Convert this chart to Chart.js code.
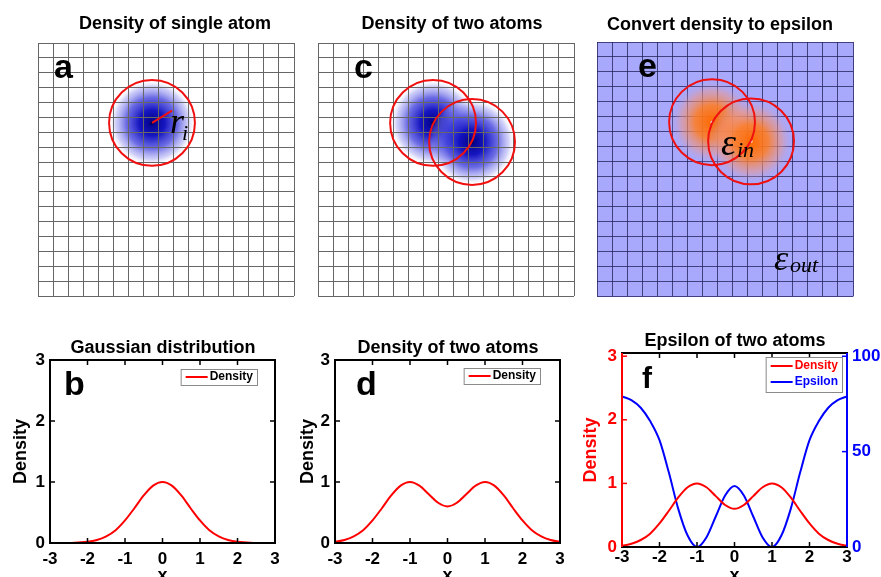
<!DOCTYPE html>
<html>
<head>
<meta charset="utf-8">
<script src="https://cdn.jsdelivr.net/npm/chart.js@4.4.1/dist/chart.umd.min.js"></script>
<style>
  html, body { margin: 0; padding: 0; background: #fff; overflow: hidden; }
  #wrap { position: relative; width: 881px; height: 577px; overflow: hidden; }
  canvas { position: absolute; left: 0; top: 0; }
</style>
</head>
<body>
<div id="wrap">
  <canvas id="panelA" width="881" height="600"></canvas>
  <canvas id="panelC" width="881" height="600"></canvas>
  <canvas id="panelE" width="881" height="600"></canvas>
  <canvas id="panelB" width="881" height="600"></canvas>
  <canvas id="panelD" width="881" height="600"></canvas>
  <canvas id="panelF" width="881" height="600"></canvas>
</div>
<script>
// ---- data ----
const xValues = [-3, -2.75, -2.5, -2.25, -2, -1.75, -1.5, -1.25, -1, -0.75, -0.5, -0.25, 0,
                 0.25, 0.5, 0.75, 1, 1.25, 1.5, 1.75, 2, 2.25, 2.5, 2.75, 3];
const gaussDensity = [0, 0, 0, 0.01, 0.02, 0.05, 0.11, 0.21, 0.37, 0.57, 0.78, 0.94, 1.00,
                      0.94, 0.78, 0.57, 0.37, 0.21, 0.11, 0.05, 0.02, 0.01, 0, 0, 0];
const twoDensity = [0.02, 0.05, 0.11, 0.21, 0.37, 0.57, 0.78, 0.94, 1.00, 0.94, 0.80, 0.66, 0.60,
                    0.66, 0.80, 0.94, 1.00, 0.94, 0.78, 0.57, 0.37, 0.21, 0.11, 0.05, 0.02];
const twoEpsilon = [79, 77, 73, 66, 56, 39, 20, 6, 0, 5, 16, 27, 32,
                    27, 16, 5, 0, 6, 20, 39, 56, 66, 73, 77, 79];
const xTicks = [-3, -2, -1, 0, 1, 2, 3];
const densityTicks = [0, 1, 2, 3];
const epsilonTicks = [0, 50, 100];

// grid pictures (in grid cells)
const gridCells = 17;
const singleAtomX = [7.57];
const singleAtomY = [11.63];
const twoAtomX = [7.64, 10.23];
const twoAtomY = [11.63, 10.35];
const atomRadius = 2.85;
const radiusTip = [8.9, 12.45];

Chart.defaults.font.family = "'Liberation Sans', Arial, sans-serif";
Chart.defaults.color = '#000';

const toPoints = ys => xValues.map((x, i) => ({ x, y: ys[i] }));
const fixedTicks = vals => s => { s.ticks = vals.map(v => ({ value: v })); };

// text drawn on the canvas (titles, panel letters, symbols)
const notesPlugin = {
  id: 'notes',
  afterDraw(chart, args, opts) {
    const ctx = chart.ctx;
    (opts.items || []).forEach(n => {
      ctx.save();
      ctx.font = n.font;
      ctx.fillStyle = n.color || '#000';
      ctx.textAlign = n.align || 'left';
      ctx.textBaseline = 'alphabetic';
      ctx.fillText(n.text, n.x, n.y);
      ctx.restore();
    });
  }
};

// gaussian blobs + red circles on the grid panels
const atomsPlugin = {
  id: 'atoms',
  beforeDraw(chart, args, opts) {
    if (!opts.background) return;
    const { ctx, chartArea: a } = chart;
    ctx.save();
    ctx.fillStyle = opts.background;
    ctx.fillRect(a.left, a.top, a.width + 1, a.height + 1);
    ctx.restore();
  },
  beforeDatasetsDraw(chart, args, opts) {
    const { ctx, chartArea: a, scales: { x, y } } = chart;
    ctx.save();
    ctx.beginPath();
    ctx.rect(a.left, a.top, a.width, a.height);
    ctx.clip();
    opts.xs.forEach((ax, i) => {
      const px = x.getPixelForValue(ax);
      const py = y.getPixelForValue(opts.ys[i]);
      const r = x.getPixelForValue(ax + atomRadius) - px;
      const g = ctx.createRadialGradient(px, py, 0, px, py, r);
      opts.stops.forEach(s => g.addColorStop(s[0], s[1]));
      ctx.fillStyle = g;
      ctx.beginPath();
      ctx.arc(px, py, r, 0, Math.PI * 2);
      ctx.fill();
    });
    ctx.restore();
  },
  afterDraw(chart, args, opts) {
    const { ctx, scales: { x, y } } = chart;
    ctx.save();
    ctx.strokeStyle = '#f01010';
    ctx.lineWidth = 2;
    opts.xs.forEach((ax, i) => {
      const px = x.getPixelForValue(ax);
      const py = y.getPixelForValue(opts.ys[i]);
      const r = x.getPixelForValue(ax + atomRadius) - px;
      ctx.beginPath();
      ctx.arc(px, py, r, 0, Math.PI * 2);
      ctx.stroke();
      if (opts.tip) {
        ctx.beginPath();
        ctx.moveTo(px, py);
        ctx.lineTo(x.getPixelForValue(opts.tip[0]), y.getPixelForValue(opts.tip[1]));
        ctx.stroke();
      }
    });
    ctx.restore();
  }
};

// matlab-like box with inward ticks
const boxPlugin = {
  id: 'axisBox',
  afterDraw(chart, args, opts) {
    const { ctx, chartArea: a } = chart;
    const sx = chart.scales.x, sl = chart.scales.y, sr = chart.scales.y1 || chart.scales.y;
    const left = opts.leftColor || '#000', right = opts.rightColor || '#000';
    ctx.save();
    ctx.lineWidth = 1.5;
    ctx.strokeStyle = '#000';
    sx.ticks.forEach(t => {
      const p = sx.getPixelForValue(t.value);
      ctx.beginPath();
      ctx.moveTo(p, a.bottom); ctx.lineTo(p, a.bottom - 5);
      ctx.moveTo(p, a.top); ctx.lineTo(p, a.top + 5);
      ctx.stroke();
    });
    ctx.strokeStyle = left;
    sl.ticks.forEach(t => {
      const p = sl.getPixelForValue(t.value);
      ctx.beginPath(); ctx.moveTo(a.left, p); ctx.lineTo(a.left + 5, p); ctx.stroke();
    });
    ctx.strokeStyle = right;
    sr.ticks.forEach(t => {
      const p = sr.getPixelForValue(t.value);
      ctx.beginPath(); ctx.moveTo(a.right, p); ctx.lineTo(a.right - 5, p); ctx.stroke();
    });
    ctx.lineWidth = 2;
    const side = (c, x1, y1, x2, y2) => {
      ctx.strokeStyle = c;
      ctx.beginPath(); ctx.moveTo(x1, y1); ctx.lineTo(x2, y2); ctx.stroke();
    };
    side('#000', a.left - 1, a.bottom, a.right + 1, a.bottom);
    side('#000', a.left - 1, a.top, a.right + 1, a.top);
    side(left, a.left, a.top, a.left, a.bottom);
    side(right, a.right, a.top, a.right, a.bottom);
    ctx.restore();
  }
};

// small boxed legend in the top right of the plot
const boxLegendPlugin = {
  id: 'boxLegend',
  afterDraw(chart, args, opts) {
    const { ctx, chartArea: a } = chart;
    const sets = chart.data.datasets;
    ctx.save();
    ctx.font = 'bold 12px "Liberation Sans", Arial, sans-serif';
    const tw = Math.max(...sets.map(d => ctx.measureText(d.label).width));
    const w = 5 + 22 + 2 + tw + 4;
    const h = opts.height;
    const bx = a.right - opts.right - w, by = a.top + opts.top;
    ctx.fillStyle = '#fff';
    ctx.fillRect(bx, by, w, h);
    ctx.strokeStyle = '#8a8a8a';
    ctx.lineWidth = 1;
    ctx.strokeRect(bx + 0.5, by + 0.5, w, h);
    sets.forEach((d, i) => {
      const cy = by + opts.first + i * 16;
      ctx.strokeStyle = d.borderColor;
      ctx.lineWidth = 2;
      ctx.beginPath(); ctx.moveTo(bx + 5, cy); ctx.lineTo(bx + 27, cy); ctx.stroke();
      ctx.fillStyle = opts.colored ? d.borderColor : '#000';
      ctx.textBaseline = 'middle';
      ctx.fillText(d.label, bx + 29, cy);
    });
    ctx.restore();
  }
};

function gridAxis(color, z) {
  return {
    type: 'linear', min: 0, max: gridCells,
    ticks: { display: false, stepSize: 1 },
    grid: { color: color, lineWidth: 1, drawTicks: false, z: z },
    border: { display: false },
    afterFit: s => { if (s.isHorizontal()) s.height = 0; else s.width = 0; }
  };
}

function gridChart(id, pad, xs, ys, stops, gridColor, gridZ, extra) {
  return new Chart(document.getElementById(id), {
    type: 'scatter',
    data: { datasets: [{ data: xs.map((x, i) => ({ x, y: ys[i] })), pointRadius: 1.5,
                         pointBackgroundColor: extra.dot, pointBorderWidth: 0 }] },
    options: {
      responsive: false, animation: false, devicePixelRatio: 1, events: [],
      layout: { padding: pad },
      scales: { x: gridAxis(gridColor, gridZ), y: gridAxis(gridColor, gridZ) },
      plugins: {
        legend: { display: false }, tooltip: { enabled: false },
        atoms: { xs, ys, stops, tip: extra.tip, background: extra.background },
        notes: { items: extra.notes }
      }
    },
    plugins: [atomsPlugin, notesPlugin]
  });
}

const blueStops = [[0, 'rgba(0,0,130,1)'], [0.3, 'rgba(10,10,190,0.95)'], [0.6, 'rgba(60,60,220,0.75)'],
                   [0.85, 'rgba(140,140,240,0.4)'], [1, 'rgba(255,255,255,0.05)']];
const orangeStops = [[0, 'rgba(255,105,0,1)'], [0.4, 'rgba(255,125,35,0.88)'], [0.72, 'rgba(240,150,130,0.5)'],
                     [1, 'rgba(168,168,252,0)']];
const titleFont = 'bold 18px "Liberation Sans", Arial, sans-serif';
const letterFont = 'bold 34px "Liberation Sans", Arial, sans-serif';

gridChart('panelA', { left: 38, top: 43, right: 587, bottom: 304 }, singleAtomX, singleAtomY, blueStops, '#666', 1, {
  dot: '#000040', tip: radiusTip,
  notes: [
    { text: 'Density of single atom', x: 175, y: 29, font: titleFont, align: 'center' },
    { text: 'a', x: 54, y: 78, font: letterFont },
    { text: 'r', x: 170, y: 133, font: 'italic 36px "Liberation Serif", serif' },
    { text: 'i', x: 182, y: 140, font: 'italic 22px "Liberation Serif", serif' }
  ]
});

gridChart('panelC', { left: 318, top: 43, right: 307, bottom: 304 }, twoAtomX, twoAtomY, blueStops, '#666', 1, {
  dot: '#000040',
  notes: [
    { text: 'Density of two atoms', x: 452, y: 29, font: titleFont, align: 'center' },
    { text: 'c', x: 354, y: 78, font: letterFont }
  ]
});

gridChart('panelE', { left: 597, top: 42, right: 28, bottom: 304 }, twoAtomX, twoAtomY, orangeStops, 'rgba(30,30,85,0.75)', -1, {
  dot: '#e8e8ff', background: '#a8a8fc',
  notes: [
    { text: 'Convert density to epsilon', x: 720, y: 30, font: titleFont, align: 'center' },
    { text: 'e', x: 638, y: 77, font: letterFont },
    { text: 'ε', x: 721, y: 155, font: 'italic 38px "Liberation Serif", serif' },
    { text: 'in', x: 737, y: 157, font: 'italic 22px "Liberation Serif", serif' },
    { text: 'ε', x: 774, y: 270, font: 'italic 36px "Liberation Serif", serif' },
    { text: 'out', x: 790, y: 272, font: 'italic 22px "Liberation Serif", serif' }
  ]
});

// ---- line plots ----
const tickFont = { size: 17, weight: 'bold' };
const axisTitleFont = { size: 18, weight: 'bold' };

function xAxis(pad, height) {
  return {
    type: 'linear', min: -3, max: 3,
    afterBuildTicks: fixedTicks(xTicks),
    ticks: { font: tickFont, color: '#000', padding: pad, maxRotation: 0, autoSkip: false },
    grid: { display: false, drawTicks: false }, border: { display: false },
    title: { display: true, text: 'x', font: axisTitleFont, color: '#000', padding: { top: 0, bottom: 1 } },
    afterFit: s => { s.height = height; }
  };
}

function yAxis(opts) {
  return {
    type: 'linear', position: opts.position || 'left', min: 0, max: opts.max,
    afterBuildTicks: fixedTicks(opts.ticks),
    ticks: { font: tickFont, color: opts.color, padding: 5, autoSkip: false },
    grid: { display: false, drawTicks: false }, border: { display: false },
    title: { display: !!opts.title, text: opts.title || '', font: axisTitleFont, color: opts.color,
             padding: { top: opts.titlePad || 0, bottom: 0 } },
    afterFit: s => { s.width = opts.width; }
  };
}

function lineSet(label, ys, color, axis) {
  return { label, data: toPoints(ys), borderColor: color, backgroundColor: color, borderWidth: 2,
           pointRadius: 0, cubicInterpolationMode: 'monotone', yAxisID: axis || 'y' };
}

function baseOptions(pad, scales, notes, legend) {
  return {
    responsive: false, animation: false, devicePixelRatio: 1, events: [],
    layout: { padding: pad },
    scales,
    plugins: {
      legend: { display: false }, tooltip: { enabled: false },
      notes: { items: notes }, axisBox: legend.box || {}, boxLegend: legend
    }
  };
}

new Chart(document.getElementById('panelB'), {
  type: 'line',
  data: { datasets: [lineSet('Density', gaussDensity, '#ff0000')] },
  options: baseOptions({ left: 0, top: 360, right: 606, bottom: 12 },
    { x: xAxis(6, 45), y: yAxis({ max: 3, ticks: densityTicks, color: '#000', title: 'Density', titlePad: 10, width: 50 }) },
    [{ text: 'Gaussian distribution', x: 163, y: 353, font: titleFont, align: 'center' },
     { text: 'b', x: 64, y: 395, font: letterFont }],
    { right: 18, top: 9, height: 16, first: 8, colored: false }),
  plugins: [boxPlugin, boxLegendPlugin, notesPlugin]
});

new Chart(document.getElementById('panelD'), {
  type: 'line',
  data: { datasets: [lineSet('Density', twoDensity, '#ff0000')] },
  options: baseOptions({ left: 295, top: 360, right: 321, bottom: 12 },
    { x: xAxis(6, 45), y: yAxis({ max: 3, ticks: densityTicks, color: '#000', title: 'Density', titlePad: 2, width: 40 }) },
    [{ text: 'Density of two atoms', x: 448, y: 353, font: titleFont, align: 'center' },
     { text: 'd', x: 356, y: 395, font: letterFont }],
    { right: 20, top: 8, height: 16, first: 8, colored: false }),
  plugins: [boxPlugin, boxLegendPlugin, notesPlugin]
});

new Chart(document.getElementById('panelF'), {
  type: 'line',
  data: { datasets: [lineSet('Density', twoDensity, '#ff0000', 'y'),
                     lineSet('Epsilon', twoEpsilon, '#0000ff', 'y1')] },
  options: baseOptions({ left: 580, top: 353, right: 0, bottom: 12 },
    { x: xAxis(0, 41),
      y: yAxis({ max: 3.05, ticks: densityTicks, color: '#ff0000', title: 'Density', titlePad: 0, width: 42 }),
      y1: yAxis({ position: 'right', max: 101.7, ticks: epsilonTicks, color: '#0000ff', width: 34 }) },
    [{ text: 'Epsilon of two atoms', x: 735, y: 346, font: titleFont, align: 'center' },
     { text: 'f', x: 642, y: 388, font: 'bold 30px "Liberation Sans", Arial, sans-serif' }],
    { right: 5, top: 4, height: 35, first: 9, colored: true,
      box: { leftColor: '#ff0000', rightColor: '#0000ff' } }),
  plugins: [boxPlugin, boxLegendPlugin, notesPlugin]
});
</script>
</body>
</html>
